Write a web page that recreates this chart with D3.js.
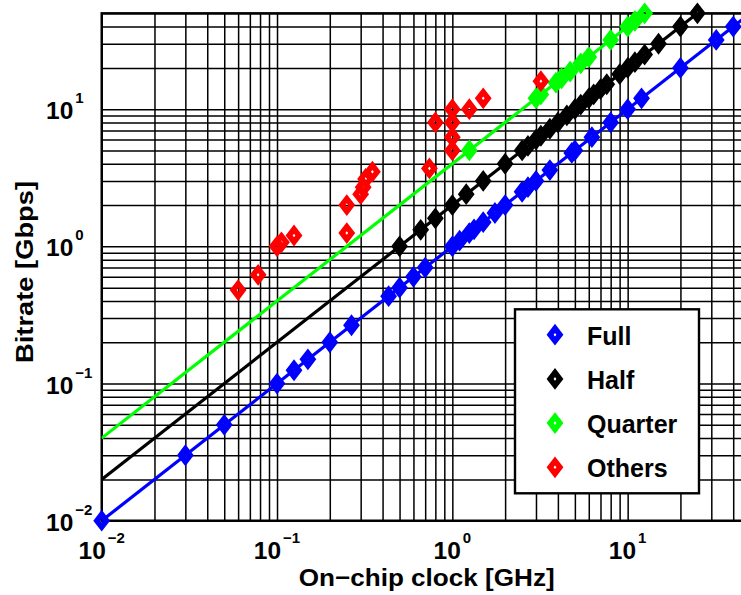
<!DOCTYPE html>
<html>
<head>
<meta charset="utf-8">
<script src="https://cdn.jsdelivr.net/npm/d3@7"></script>
<style>
  body { margin: 0; background: #fff; }
  svg { display: block; }
  text { font-family: "Liberation Sans", Arial, Helvetica, sans-serif; font-weight: bold; fill: #000; }
</style>
</head>
<body>
<svg id="chart" width="741" height="595"></svg>
<script>
// ---- data -------------------------------------------------------------
// Full-rate links: bitrate equals the on-chip clock
const fullClock = [0.01, 0.03, 0.05, 0.1, 0.125, 0.15, 0.2, 0.266, 0.433, 0.5, 0.6, 0.7,
                   1.0, 1.1, 1.25, 1.33, 1.5, 1.75, 2.0, 2.5, 2.7, 3.0, 3.6, 4.8, 5.0, 6.25,
                   8.0, 10, 12, 20, 32, 40];
const fullRate  = [0.01, 0.03, 0.05, 0.1, 0.125, 0.15, 0.2, 0.266, 0.433, 0.5, 0.6, 0.7,
                   1.0, 1.1, 1.25, 1.33, 1.5, 1.75, 2.0, 2.5, 2.7, 3.0, 3.6, 4.8, 5.0, 6.25,
                   8.0, 10, 12, 20, 32, 40];

// Half-rate links: bitrate is twice the clock
const halfClock = [0.5, 0.66, 0.8, 1.0, 1.2, 1.5, 2.0, 2.5, 2.7, 3.0, 3.2, 3.6, 4.0, 4.5,
                   5.0, 5.4, 6.0, 6.4, 7.0, 7.6, 9.0, 10, 11, 12.5, 15, 20, 25];
const halfRate  = [1.0, 1.32, 1.6, 2.0, 2.4, 3.0, 4.0, 5.0, 5.4, 6.0, 6.4, 7.2, 8.0, 9.0,
                   10, 10.8, 12, 12.8, 14, 15.2, 18, 20, 22, 25, 30, 40, 50];

// Quarter-rate links: bitrate is four times the clock
const quarterClock = [1.25, 3.0, 3.2, 3.9, 4.2, 4.7, 5.4, 6.0, 8.0, 10, 11, 12.5];
const quarterRate  = [5.0, 12, 12.8, 15.6, 16.8, 18.8, 21.6, 24, 32, 40, 44, 50];

// Other architectures
const otherClock = [0.06, 0.078, 0.1, 0.106, 0.125, 0.25, 0.25, 0.3, 0.31, 0.32, 0.35,
                    0.74, 0.8, 1.0, 1.0, 1.0, 1.0, 1.25, 1.5, 3.2];
const otherRate  = [0.48, 0.62, 1.0, 1.07, 1.2, 1.25, 2.0, 2.4, 2.7, 3.1, 3.5,
                    3.7, 8.0, 10, 8.0, 6.25, 5.0, 10, 12, 16];

// Guide lines for each rate ratio
const fullLineClock = [0.01, 50],   fullLineRate = [0.01, 50];
const halfLineClock = [0.01, 25],   halfLineRate = [0.02, 50];
const quarterLineClock = [0.01, 12.5], quarterLineRate = [0.04, 50];

// Axis tick labels (decades)
const xTickValues = [0.01, 0.1, 1, 10];
const yTickValues = [0.01, 0.1, 1, 10];
const tickBase = "10";
const tickExponents = ["\u22122", "\u22121", "0", "1"];

const seriesNames = ["Full", "Half", "Quarter", "Others"];
const seriesColors = ["#0000ff", "#000000", "#00ff00", "#ff0000"];

const xLabel = "On\u2212chip clock [GHz]";
const yLabel = "Bitrate [Gbps]";

// ---- layout -----------------------------------------------------------
const svg = d3.select("#chart");
const plotLeft = 101.7, plotRight = 750.2, plotTop = 13.3, plotBottom = 520.7;

const x = d3.scaleLog().domain([0.01, 50]).range([plotLeft, plotRight]);
const y = d3.scaleLog().domain([0.01, 50]).range([plotBottom, plotTop]);

// ---- grid (major + minor, all solid black) ---------------------------
const grid = svg.append("g");
grid.append("g")
  .attr("transform", `translate(0,${plotBottom})`)
  .call(d3.axisBottom(x).tickValues(x.ticks()).tickSize(-(plotBottom - plotTop)).tickFormat(""))
  .call(g => g.select(".domain").remove())
  .call(g => g.selectAll("line").attr("stroke", "#000").attr("stroke-width", 1.5));
grid.append("g")
  .attr("transform", `translate(${plotLeft},0)`)
  .call(d3.axisLeft(y).tickValues(y.ticks()).tickSize(-(plotRight - plotLeft)).tickFormat(""))
  .call(g => g.select(".domain").remove())
  .call(g => g.selectAll("line").attr("stroke", "#000").attr("stroke-width", 1.5));

// plot frame
svg.append("rect")
  .attr("x", plotLeft).attr("y", plotTop)
  .attr("width", plotRight - plotLeft).attr("height", plotBottom - plotTop)
  .attr("fill", "none").attr("stroke", "#000").attr("stroke-width", 2.4);

// ---- tick labels -----------------------------------------------------
xTickValues.forEach((v, i) => {
  const t = svg.append("text")
    .attr("x", x(v)).attr("y", 559)
    .attr("text-anchor", "middle")
    .attr("font-size", 24.5);
  t.append("tspan").text(tickBase);
  t.append("tspan").attr("dx", 2).attr("dy", -16).attr("font-size", 15).text(tickExponents[i]);
});
yTickValues.forEach((v, i) => {
  const t = svg.append("text")
    .attr("x", 46).attr("y", y(v) + 10)
    .attr("font-size", 24.5);
  t.append("tspan").text(tickBase);
  t.append("tspan").attr("dx", 2).attr("dy", -16).attr("font-size", 15).text(tickExponents[i]);
});

// axis titles
svg.append("text")
  .attr("x", 426.7).attr("y", 586)
  .attr("text-anchor", "middle").attr("font-size", 24.5)
  .attr("textLength", 256).attr("lengthAdjust", "spacingAndGlyphs")
  .text(xLabel);
svg.append("text")
  .attr("transform", "translate(33,272) rotate(-90)")
  .attr("text-anchor", "middle").attr("font-size", 24.5)
  .attr("textLength", 182).attr("lengthAdjust", "spacingAndGlyphs")
  .text(yLabel);

// ---- series ----------------------------------------------------------
svg.append("clipPath").attr("id", "plotArea")
  .append("rect").attr("x", plotLeft).attr("y", plotTop)
  .attr("width", plotRight - plotLeft).attr("height", plotBottom - plotTop);

const line = d3.line().x(d => x(d[0])).y(d => y(d[1]));

// hollow diamond: outer shape with a small hole in the middle
const mw = 8.4, mh = 10.9, iw = 1.4, ih = 1.8;
const diamond = `M0,${-mh}L${mw},0L0,${mh}L${-mw},0Z M0,${-ih}L${iw},0L0,${ih}L${-iw},0Z`;

function drawMarkers(clock, rate, color) {
  svg.append("g").selectAll("path")
    .data(d3.zip(clock, rate))
    .join("path")
    .attr("transform", d => `translate(${x(d[0])},${y(d[1])})`)
    .attr("d", diamond)
    .attr("fill", color)
    .attr("fill-rule", "evenodd");
}

function drawGuide(clock, rate, color) {
  svg.append("path")
    .datum(d3.zip(clock, rate))
    .attr("d", line)
    .attr("fill", "none")
    .attr("stroke", color)
    .attr("stroke-width", 3.2)
    .attr("clip-path", "url(#plotArea)");
}

drawGuide(fullLineClock, fullLineRate, seriesColors[0]);
drawMarkers(fullClock, fullRate, seriesColors[0]);
drawGuide(halfLineClock, halfLineRate, seriesColors[1]);
drawMarkers(halfClock, halfRate, seriesColors[1]);
drawGuide(quarterLineClock, quarterLineRate, seriesColors[2]);
drawMarkers(quarterClock, quarterRate, seriesColors[2]);
drawMarkers(otherClock, otherRate, seriesColors[3]);

// ---- legend ----------------------------------------------------------
const legend = svg.append("g");
legend.append("rect")
  .attr("x", 515).attr("y", 309.3).attr("width", 184).attr("height", 184)
  .attr("fill", "#fff").attr("stroke", "#000").attr("stroke-width", 2.4);
seriesNames.forEach((name, i) => {
  const cy = 334.7 + i * 44.2;
  legend.append("path")
    .attr("transform", `translate(555,${cy})`)
    .attr("d", diamond)
    .attr("fill", seriesColors[i])
    .attr("fill-rule", "evenodd");
  legend.append("text")
    .attr("x", 587).attr("y", cy + 10)
    .attr("font-size", 25)
    .text(name);
});
</script>
</body>
</html>
